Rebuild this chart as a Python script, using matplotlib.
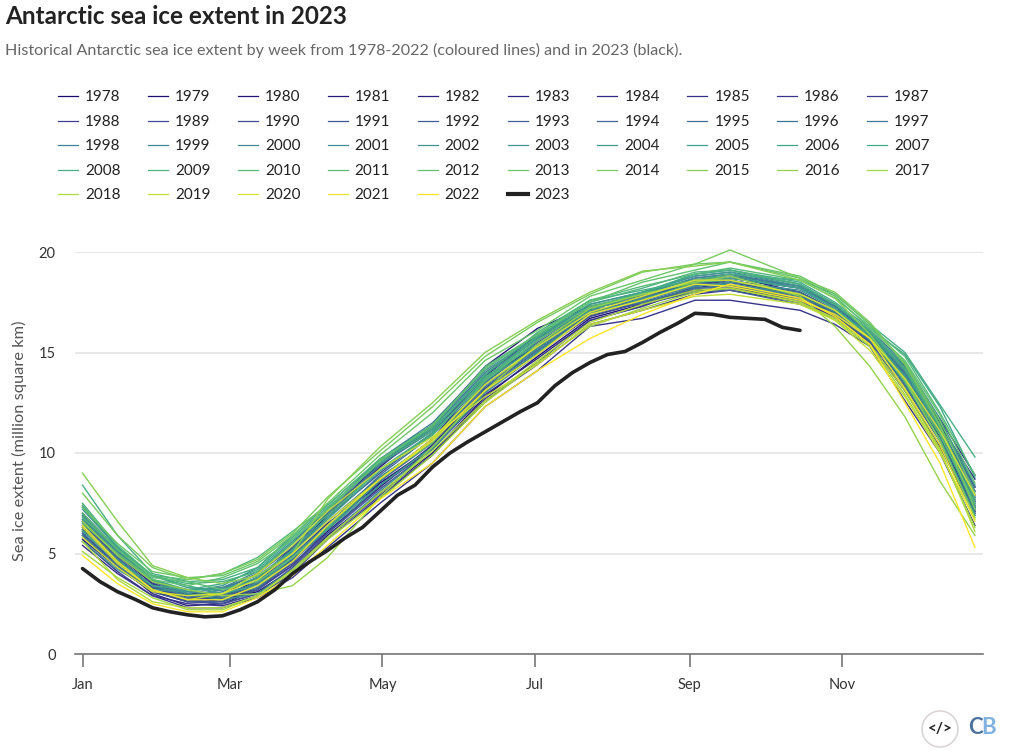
import numpy as np
import matplotlib
matplotlib.use("Agg")
from matplotlib import pyplot as plt
from matplotlib.colors import LinearSegmentedColormap
from matplotlib.lines import Line2D
from matplotlib.patches import Ellipse

plt.rcParams['font.family'] = ['Lato', 'DejaVu Sans']

# week numbers the values below were read at
weeks = [0, 2, 4, 6, 8, 10, 12, 14, 17, 20, 23, 26, 29, 32, 35, 37, 41, 43, 45, 47, 49, 51]

y1978 = [6.2, 4.7, 3.4, 2.8, 2.6, 3.3, 4.6, 6.4, 8.5, 10.3, 13.1, 15.0, 16.8, 17.5, 18.2, 18.5, 17.9, 17.0, 15.7, 13.7, 11.0, 7.3]
y1979 = [6.6, 4.9, 3.5, 2.9, 2.7, 3.1, 4.2, 5.9, 8.0, 10.0, 12.8, 14.8, 16.7, 17.4, 18.1, 18.2, 17.7, 16.8, 15.5, 13.5, 10.8, 7.1]
y1980 = [7.0, 5.2, 3.6, 3.0, 3.0, 3.8, 5.1, 6.9, 9.3, 11.4, 14.3, 16.2, 17.3, 17.8, 18.4, 18.7, 18.2, 17.3, 15.9, 14.3, 11.5, 8.3]
y1981 = [5.7, 4.3, 3.1, 2.6, 2.8, 3.7, 5.3, 7.0, 9.5, 11.2, 13.6, 15.4, 16.9, 17.6, 18.6, 18.8, 18.0, 17.1, 15.7, 13.4, 10.6, 7.6]
y1982 = [6.0, 4.4, 3.0, 2.4, 2.5, 3.2, 4.4, 6.1, 8.3, 10.4, 13.2, 15.3, 17.2, 17.7, 18.5, 18.4, 17.8, 17.0, 15.8, 14.0, 11.4, 8.7]
y1983 = [6.7, 5.0, 3.5, 2.9, 2.8, 3.4, 4.7, 6.3, 8.6, 10.7, 13.8, 15.9, 17.1, 17.5, 18.1, 18.2, 17.5, 16.8, 15.7, 14.2, 11.7, 8.9]
y1984 = [6.3, 4.7, 3.3, 2.8, 2.9, 3.5, 4.9, 6.5, 8.4, 10.2, 12.9, 14.7, 16.6, 17.3, 18.3, 18.6, 17.9, 16.9, 15.4, 13.1, 10.4, 7.0]
y1985 = [5.4, 4.0, 2.9, 2.5, 2.4, 2.9, 4.0, 5.7, 7.8, 9.9, 12.6, 14.4, 16.4, 17.1, 17.9, 18.1, 17.5, 16.8, 15.4, 13.1, 10.3, 6.9]
y1986 = [5.6, 4.1, 2.9, 2.3, 2.3, 2.8, 3.8, 5.3, 7.5, 9.5, 12.3, 14.1, 16.3, 16.7, 17.6, 17.6, 17.1, 16.4, 15.3, 12.6, 10.0, 6.4]
y1987 = [6.5, 4.8, 3.3, 2.6, 2.5, 3.0, 4.2, 5.8, 7.9, 9.9, 12.7, 14.5, 16.6, 17.3, 18.2, 18.3, 17.8, 16.9, 15.6, 13.7, 11.3, 8.1]
y1988 = [6.9, 5.1, 3.5, 2.9, 2.7, 3.2, 4.4, 6.2, 8.6, 10.5, 13.4, 15.2, 16.9, 17.6, 18.3, 18.5, 17.9, 17.0, 15.8, 13.8, 11.1, 7.8]
y1989 = [5.9, 4.3, 3.1, 2.7, 2.8, 3.6, 5.0, 6.8, 9.0, 11.0, 13.9, 15.7, 17.1, 17.4, 18.0, 18.2, 17.6, 16.9, 15.5, 13.5, 10.7, 7.5]
y1990 = [6.1, 4.6, 3.2, 2.7, 2.7, 3.3, 4.5, 6.0, 8.2, 10.2, 13.0, 15.0, 16.9, 17.7, 18.4, 18.6, 18.0, 17.1, 15.9, 13.9, 11.2, 7.9]
y1991 = [6.4, 4.7, 3.3, 2.7, 2.5, 3.0, 4.3, 6.0, 8.4, 10.3, 13.2, 15.1, 16.8, 17.5, 18.2, 18.3, 17.6, 16.9, 15.5, 13.6, 10.9, 7.4]
y1992 = [5.8, 4.4, 3.1, 2.6, 2.6, 3.2, 4.6, 6.3, 8.7, 10.7, 13.5, 15.4, 17.0, 17.7, 18.6, 18.6, 17.8, 17.0, 15.6, 13.7, 11.0, 7.2]
y1993 = [6.0, 4.5, 3.3, 2.9, 3.2, 4.0, 5.3, 7.0, 9.4, 11.1, 13.7, 15.5, 17.1, 17.5, 18.0, 18.1, 17.4, 16.7, 15.4, 13.3, 10.6, 7.1]
y1994 = [6.8, 5.1, 3.7, 3.1, 3.0, 3.5, 4.8, 6.4, 8.7, 10.6, 13.4, 15.2, 17.2, 17.9, 18.7, 18.9, 18.2, 17.3, 16.0, 14.2, 11.6, 8.3]
y1995 = [6.3, 4.8, 3.4, 2.9, 2.9, 3.4, 4.7, 6.4, 8.9, 10.9, 13.6, 15.6, 17.2, 17.8, 18.5, 18.6, 18.0, 17.0, 15.7, 13.8, 11.1, 7.7]
y1996 = [6.6, 4.9, 3.6, 3.2, 3.3, 3.9, 5.1, 6.6, 8.8, 10.5, 13.3, 15.1, 16.9, 17.7, 18.4, 18.8, 18.3, 17.4, 15.9, 14.0, 11.3, 7.6]
y1997 = [5.9, 4.4, 3.2, 2.8, 3.1, 3.8, 5.2, 7.0, 9.4, 11.3, 14.0, 15.8, 17.1, 17.5, 18.2, 18.3, 17.7, 16.9, 15.6, 13.4, 10.7, 7.0]
y1998 = [6.2, 4.7, 3.4, 2.9, 3.2, 4.0, 5.5, 7.2, 9.7, 11.5, 14.2, 15.9, 17.3, 17.9, 18.7, 18.9, 18.3, 17.3, 16.1, 14.5, 11.7, 8.1]
y1999 = [7.0, 5.2, 3.6, 3.0, 2.8, 3.3, 4.6, 6.2, 8.6, 10.7, 13.5, 15.6, 17.2, 17.7, 18.3, 18.4, 17.8, 17.0, 15.7, 13.6, 10.9, 7.3]
y2000 = [6.4, 4.7, 3.4, 3.0, 3.3, 4.1, 5.6, 7.1, 9.6, 11.3, 13.9, 15.7, 17.4, 18.0, 18.8, 19.0, 18.4, 17.4, 16.1, 14.3, 11.4, 7.8]
y2001 = [6.9, 5.1, 3.7, 3.1, 3.0, 3.5, 4.9, 6.4, 8.8, 10.6, 13.4, 15.2, 17.0, 17.6, 18.3, 18.5, 18.1, 17.2, 15.8, 13.9, 11.2, 7.5]
y2002 = [7.2, 5.3, 3.7, 3.0, 2.7, 3.0, 4.2, 5.8, 8.1, 10.2, 13.0, 14.9, 16.9, 17.7, 18.4, 18.4, 17.9, 17.1, 15.9, 14.1, 11.3, 7.4]
y2003 = [5.6, 4.2, 3.2, 3.1, 3.4, 4.3, 5.9, 7.4, 9.7, 11.4, 14.1, 15.8, 17.2, 18.0, 18.8, 19.0, 18.3, 17.4, 16.0, 14.4, 11.6, 8.4]
y2004 = [7.4, 5.3, 3.9, 3.3, 3.2, 3.7, 5.1, 6.7, 9.1, 10.9, 13.7, 15.7, 17.4, 18.0, 18.6, 18.8, 18.2, 17.2, 15.9, 13.8, 11.0, 7.2]
y2005 = [6.7, 5.0, 3.7, 3.2, 3.2, 3.8, 5.2, 6.8, 9.2, 11.0, 13.6, 15.3, 17.1, 17.9, 18.9, 19.1, 18.4, 17.4, 16.0, 14.1, 11.2, 7.3]
y2006 = [7.3, 5.3, 3.9, 3.4, 3.0, 3.4, 4.8, 6.2, 8.4, 10.3, 13.1, 15.0, 16.9, 17.6, 18.5, 18.7, 18.2, 17.2, 15.8, 13.5, 10.7, 6.9]
y2007 = [6.1, 4.6, 3.4, 3.2, 3.5, 4.2, 5.7, 7.2, 9.6, 11.2, 13.8, 15.4, 17.2, 18.0, 18.9, 19.1, 18.5, 17.5, 16.2, 14.9, 12.3, 8.8]
y2008 = [8.4, 5.9, 4.0, 3.6, 3.7, 4.3, 5.8, 7.3, 9.5, 11.1, 13.9, 16.0, 17.6, 18.1, 18.6, 18.9, 18.6, 17.9, 16.4, 15.0, 12.4, 9.8]
y2009 = [7.5, 5.4, 3.9, 3.5, 3.6, 4.1, 5.5, 6.9, 9.2, 10.9, 13.7, 15.8, 17.5, 18.2, 19.0, 19.1, 18.4, 17.4, 16.1, 14.2, 11.3, 7.7]
y2010 = [6.8, 5.2, 3.9, 3.7, 4.0, 4.8, 6.1, 7.4, 9.7, 11.3, 14.3, 15.9, 17.6, 18.3, 18.9, 19.2, 18.6, 17.7, 16.3, 14.8, 12.0, 8.9]
y2011 = [7.0, 5.2, 3.8, 3.6, 3.2, 3.6, 4.8, 6.3, 8.7, 10.5, 13.6, 15.6, 17.3, 17.9, 18.5, 18.6, 17.9, 17.1, 15.7, 13.6, 10.9, 7.5]
y2012 = [6.5, 5.0, 3.7, 3.4, 3.8, 4.5, 5.7, 7.2, 9.6, 11.4, 14.2, 15.9, 17.5, 18.5, 19.1, 19.5, 18.7, 17.8, 16.2, 14.6, 11.9, 8.5]
y2013 = [7.3, 5.5, 4.1, 3.8, 3.9, 4.6, 5.9, 7.5, 9.9, 12.0, 14.6, 16.1, 17.8, 18.6, 19.4, 19.5, 18.8, 17.9, 16.4, 14.5, 11.6, 8.0]
y2014 = [8.0, 5.9, 4.3, 3.7, 4.0, 4.7, 6.0, 7.8, 10.1, 12.3, 14.8, 16.5, 17.9, 19.0, 19.4, 20.1, 18.7, 18.0, 16.5, 14.4, 11.4, 7.2]
y2015 = [9.0, 6.6, 4.4, 3.8, 3.5, 3.9, 5.0, 7.7, 10.3, 12.5, 15.0, 16.6, 18.0, 19.05, 19.3, 19.5, 18.6, 17.7, 15.9, 13.6, 10.6, 6.8]
y2016 = [6.6, 4.9, 3.6, 3.2, 2.9, 3.0, 3.4, 4.8, 7.8, 10.3, 13.1, 15.4, 17.2, 17.9, 18.5, 18.8, 17.8, 16.3, 14.3, 11.8, 8.6, 5.9]
y2017 = [5.1, 3.8, 2.8, 2.2, 2.2, 2.9, 4.1, 5.7, 7.7, 9.9, 12.5, 14.5, 16.3, 17.2, 18.0, 18.2, 17.5, 16.6, 15.3, 12.9, 10.1, 6.3]
y2018 = [5.6, 3.7, 2.6, 2.3, 2.3, 2.9, 4.2, 5.8, 8.0, 10.1, 12.6, 14.6, 16.5, 17.4, 18.1, 18.2, 17.5, 16.7, 15.4, 13.1, 10.2, 6.1]
y2019 = [6.3, 4.5, 3.2, 2.7, 3.0, 4.0, 5.4, 7.1, 9.2, 10.8, 12.8, 14.4, 16.4, 17.1, 17.8, 17.9, 17.4, 16.6, 15.1, 12.8, 10.0, 6.7]
y2020 = [5.8, 4.3, 3.1, 2.9, 3.0, 3.7, 5.0, 6.6, 8.7, 10.7, 13.4, 15.3, 17.0, 17.8, 18.6, 18.6, 17.9, 17.1, 15.7, 13.7, 11.1, 7.9]
y2021 = [6.4, 4.6, 3.2, 2.7, 2.7, 3.4, 4.6, 6.4, 8.7, 10.6, 13.1, 14.9, 16.9, 17.6, 18.4, 18.3, 17.6, 16.9, 15.7, 13.2, 10.4, 6.6]
y2022 = [4.9, 3.5, 2.5, 2.1, 2.1, 2.8, 3.9, 5.4, 7.7, 9.5, 12.3, 14.1, 15.7, 16.9, 17.9, 18.4, 17.7, 16.8, 15.4, 12.5, 9.5, 5.3]

years = list(range(1978, 2023))
series = [y1978, y1979, y1980, y1981, y1982, y1983, y1984, y1985, y1986, y1987,
          y1988, y1989, y1990, y1991, y1992, y1993, y1994, y1995, y1996, y1997,
          y1998, y1999, y2000, y2001, y2002, y2003, y2004, y2005, y2006, y2007,
          y2008, y2009, y2010, y2011, y2012, y2013, y2014, y2015, y2016, y2017,
          y2018, y2019, y2020, y2021, y2022]

# 2023 is weekly, stops in mid October
y2023 = [4.25, 3.6, 3.1, 2.72, 2.3, 2.1, 1.95, 1.85, 1.9, 2.2, 2.6, 3.2, 4.0, 4.6,
         5.15, 5.77, 6.3, 7.1, 7.9, 8.4, 9.3, 10.0, 10.55, 11.05, 11.55, 12.05, 12.5,
         13.35, 14.0, 14.5, 14.9, 15.05, 15.5, 16.0, 16.45, 16.95, 16.9, 16.75, 16.7,
         16.65, 16.25, 16.1]

month_pos = [0, 8.43, 17.14, 25.86, 34.71, 43.43]
month_labels = ['Jan', 'Mar', 'May', 'Jul', 'Sep', 'Nov']
y_ticks = [0, 5, 10, 15, 20]

W, H = 1024, 751


def fx(px):
    return px / W


def fy(py):
    return 1 - py / H


fig = plt.figure(figsize=(W / 100, H / 100), dpi=100)
ax = fig.add_axes([fx(75), fy(654), fx(983 - 75), (654 - 252) / H])

cmap = LinearSegmentedColormap.from_list('years', [(0, '#1a0a70'), (0.22, '#3e3f92'), (0.45, '#3f7f96'),
                                                   (0.65, '#3fa88a'), (0.78, '#62c46e'), (0.9, '#a8d83c'),
                                                   (1, '#fde725')])
colors = cmap(np.linspace(0, 1, len(years)))
for vals, c in zip(series, colors):
    ax.plot(weeks, vals, color=c, lw=1.0, clip_on=False, zorder=3)
ax.plot(range(len(y2023)), y2023, color='#222222', lw=2.6, solid_capstyle='round', zorder=4)

ax.set_xlim(-0.43, 51.46)
ax.set_ylim(0, 20)
ax.set_xticks(month_pos)
ax.set_xticklabels(month_labels)
ax.set_yticks(y_ticks)
ax.grid(axis='y', color='#e6e6e6', lw=1.3)
ax.set_axisbelow(True)
for s in ['top', 'right', 'left']:
    ax.spines[s].set_visible(False)
ax.spines['bottom'].set_color('#777777')
ax.spines['bottom'].set_linewidth(1.2)
ax.tick_params(axis='x', length=9, width=1.2, color='#777777', labelsize=10.5, labelcolor='#333333', pad=8)
ax.tick_params(axis='y', length=0, labelsize=10.5, labelcolor='#333333', pad=14)
fig.text(fx(19), fy(441), 'Sea ice extent (million square km)', rotation=90, fontsize=11.8,
         color='#555555', ha='center', va='center')

fig.text(fx(5), fy(17), 'Antarctic sea ice extent in 2023', fontsize=17.5, fontweight='bold',
         color='#222222', ha='left', va='center')
fig.text(fx(5), fy(50), 'Historical Antarctic sea ice extent by week from 1978-2022 (coloured lines) and in 2023 (black).',
         fontsize=11.6, color='#666666', ha='left', va='center')

# legend is laid out by hand so it reads row by row
leg_labels = [str(y) for y in years] + ['2023']
leg_colors = list(colors) + ['#222222']
for i, (lab, c) in enumerate(zip(leg_labels, leg_colors)):
    col, row = i % 10, i // 10
    x0 = 58 + col * 89.9
    yy = 96 + row * 24.6
    lw = 3 if lab == '2023' else 0.9
    fig.add_artist(Line2D([fx(x0), fx(x0 + 20)], [fy(yy), fy(yy)], color=c, lw=lw))
    fig.text(fx(x0 + 27), fy(yy + 1), lab, fontsize=11, color='#222222', ha='left', va='center')

# logo bottom right
fig.add_artist(Ellipse((fx(940), fy(729)), 36 / W, 36 / H, transform=fig.transFigure,
                       facecolor='white', edgecolor='#dcd6d6', lw=1.2))
fig.text(fx(940), fy(729), '</>', fontsize=11, fontweight='bold', color='#222222', ha='center', va='center')
fig.text(fx(975), fy(728), 'C', fontsize=16, fontweight='bold', color='#4b739c', ha='center', va='center')
fig.text(fx(989), fy(728), 'B', fontsize=16, fontweight='bold', color='#7fb2e0', ha='center', va='center')

fig.savefig('out.png', dpi=100)
